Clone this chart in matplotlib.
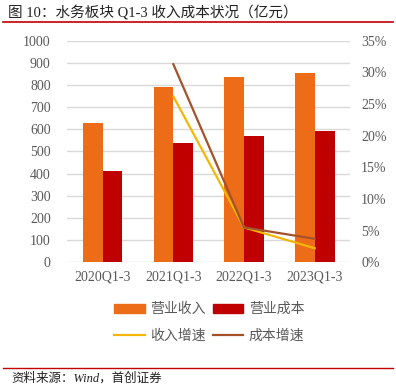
import matplotlib.pyplot as plt
import numpy as np
from matplotlib.lines import Line2D
from matplotlib.patches import Patch

plt.rcParams['font.family'] = ['Liberation Serif', 'Noto Sans CJK SC', 'DejaVu Sans']

# data
periods = ['2020Q1-3', '2021Q1-3', '2022Q1-3', '2023Q1-3']
revenue = [630, 792, 836, 855]
cost = [410, 538, 569, 592]
rev_growth = [None, 26.2, 5.5, 2.2]
cost_growth = [None, 31.3, 5.5, 3.7]

c_rev = '#EC6C17'
c_cost = '#C00000'
c_revg = '#F2B705'
c_costg = '#A5522A'
grey = '#595959'

fig = plt.figure(figsize=(3.96, 3.85), dpi=100)
ax = fig.add_axes([0.170, 0.319, 0.714, 0.575])

x = np.arange(len(periods))
w = 0.28
ax.bar(x - w / 2, revenue, w, color=c_rev, zorder=2)
ax.bar(x + w / 2, cost, w, color=c_cost, zorder=2)
ax.set_xlim(-0.5, len(periods) - 0.5)
ax.set_ylim(0, 1000)
ax.set_yticks(range(0, 1001, 100))
ax.set_xticks(x)
ax.set_xticklabels(periods)
ax.grid(axis='y', color='#D9D9D9', linewidth=1, zorder=0)
ax.tick_params(length=0, labelsize=10, colors=grey, pad=6)
ax.tick_params(axis='y', pad=12)
for s in ax.spines.values():
    s.set_visible(False)

ax2 = ax.twinx()
xs = x[1:]
ax2.plot(xs, rev_growth[1:], color=c_revg, linewidth=1.6, zorder=3)
ax2.plot(xs, cost_growth[1:], color=c_costg, linewidth=1.6, zorder=3)
ax2.set_ylim(0, 35)
ax2.set_yticks(range(0, 36, 5))
ax2.set_yticklabels([f'{v}%' for v in range(0, 36, 5)])
ax2.tick_params(length=0, labelsize=10, colors=grey, pad=8)
for s in ax2.spines.values():
    s.set_visible(False)

handles = [Patch(color=c_rev), Line2D([], [], color=c_revg, lw=1.6),
           Patch(color=c_cost), Line2D([], [], color=c_costg, lw=1.6)]
labels = ['营业收入', '收入增速', '营业成本', '成本增速']
leg = fig.legend(handles, labels, ncol=2, loc='center', bbox_to_anchor=(0.528, 0.163),
                 frameon=False, handlelength=2.2, handleheight=0.6, columnspacing=0.5,
                 handletextpad=0.4, labelspacing=0.9,
                 prop={'family': ['Noto Sans CJK SC'], 'size': 10})
for t in leg.get_texts():
    t.set_color(grey)

# title and source
fig.text(0.02, 0.968, '图 10：水务板块 Q1-3 收入成本状况（亿元）', fontsize=10.5,
         family=['Liberation Serif', 'Noto Sans CJK SC'], va='center', ha='left',
         color='#222222')
fig.add_artist(Line2D([0.008, 0.992], [0.943, 0.943], color='#C00000', lw=1.2))
fig.add_artist(Line2D([0.008, 0.992], [0.044, 0.044], color='#C00000', lw=1.0))
fig.text(0.03, 0.018, '资料来源：Wind，首创证券', fontsize=9, style='italic',
         family=['Liberation Serif', 'Noto Sans CJK SC'], va='center', ha='left',
         color='#222222')

fig.savefig('out.png', dpi=100)
